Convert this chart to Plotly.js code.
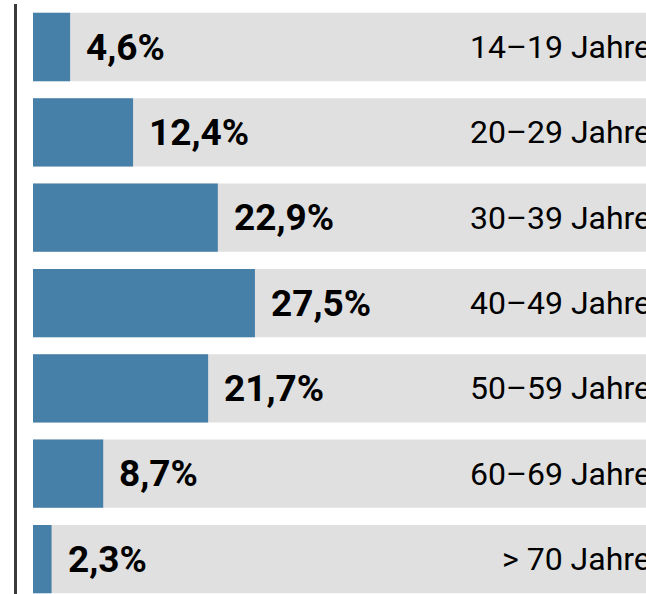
<!DOCTYPE html>
<html>
<head>
<meta charset="utf-8">
<script src="https://cdn.plot.ly/plotly-3.0.1.min.js"></script>
<style>html,body{margin:0;padding:0;background:#fff;overflow:hidden}#chart{width:646px;height:594px}</style>
</head>
<body>
<div id="chart"></div>
<script>
const categories = ["14–19 Jahre", "20–29 Jahre", "30–39 Jahre", "40–49 Jahre", "50–59 Jahre", "60–69 Jahre", "> 70 Jahre"];
const values = [4.6, 12.4, 22.9, 27.5, 21.7, 8.7, 2.3];
const fullValue = categories.map(() => 100);

const fmt = v => v.toFixed(1).replace('.', ',') + '%';

const traces = [
  {type: 'bar', orientation: 'h', y: categories, x: fullValue, marker: {color: '#e0e0e0'}, width: 0.8, hoverinfo: 'skip'},
  {type: 'bar', orientation: 'h', y: categories, x: values, marker: {color: '#467fa8'}, width: 0.8, hoverinfo: 'skip'}
];

const annotations = [];
categories.forEach((c, i) => {
  annotations.push({x: values[i], y: c, xref: 'x', yref: 'y', text: '<b>' + fmt(values[i]) + '</b>',
    showarrow: false, xanchor: 'left', yanchor: 'middle', xshift: 14,
    font: {family: 'Roboto', size: 37, color: '#000'}});
  annotations.push({x: 1, y: c, xref: 'paper', yref: 'y', text: c,
    showarrow: false, xanchor: 'right', yanchor: 'middle', xshift: 7,
    font: {family: 'Roboto', size: 32, color: '#000'}});
});

const layout = {
  width: 646, height: 594,
  margin: {l: 17, r: 0, t: 4, b: 0, pad: 0},
  paper_bgcolor: '#fff', plot_bgcolor: '#fff',
  barmode: 'overlay', showlegend: false,
  xaxis: {range: [-1.983, 75.96], showgrid: false, zeroline: false, showticklabels: false, fixedrange: true},
  yaxis: {type: 'category', categoryorder: 'array', categoryarray: categories, range: [6.41, -0.504],
    showgrid: false, zeroline: false, showticklabels: false, showline: true, linewidth: 3.5, linecolor: '#3a3a3a', fixedrange: true},
  annotations: annotations
};

Plotly.newPlot('chart', traces, layout, {staticPlot: true, displayModeBar: false});
</script>
</body>
</html>
